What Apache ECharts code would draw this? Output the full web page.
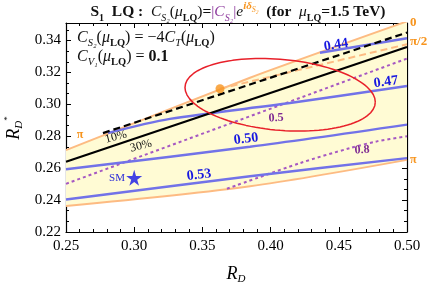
<!DOCTYPE html>
<html><head><meta charset="utf-8">
<script src="https://cdn.jsdelivr.net/npm/echarts@6/dist/echarts.min.js"></script>
<style>html,body{margin:0;padding:0;background:#fff}#c{width:432px;height:293px}</style>
</head><body><div id="c"></div>
<script>
// ---- data ----
const xTickLabels = ['0.25','0.30','0.35','0.40','0.45','0.50'];
const yTickLabels = ['0.22','0.24','0.26','0.28','0.30','0.32','0.34'];
const phase0Boundary = [[0.25,0.2713],[0.3849,0.3167],[0.50,0.3520]];   // delta = 0 (upper orange)
const phasePiBoundary = [[0.25,0.2363],[0.3849,0.2487],[0.50,0.2652]];  // delta = pi (lower orange)
const phaseHalfPi = [[0.3629,0.3098],[0.50,0.3377]];                    // delta = pi/2 (orange dashed)
const contour30pct = [[0.25,0.2640],[0.50,0.3360]];                     // black solid
const contour10pct = [[0.2771,0.2820],[0.50,0.3450]];                   // black dashed
const blue044 = [[0.4362,0.3324],[0.50,0.3415]];
const blue047 = [[0.2808,0.2820],[0.3262,0.2909],[0.4142,0.3008],[0.50,0.3115]];
const blue050 = [[0.25,0.2594],[0.3849,0.2734],[0.50,0.2873]];
const blue053 = [[0.25,0.2403],[0.3849,0.2550],[0.50,0.2663]];
const purple05 = [[0.25,0.2502],[0.50,0.3287]];
const purple08 = [[0.3680,0.2471],[0.4216,0.2632],[0.4582,0.2726],[0.4780,0.2768],[0.50,0.2800]];
const smPoint = [[0.30,0.254]];
const bestPoint = [[0.3629,0.3098]];
// HFLAV-type average ellipse (68% CL)
const ellCenter = [0.407, 0.306];
const ellSigma = [0.046, 0.015];
const ellRho = -0.20;
const ellK = Math.sqrt(2.30);

// ---- build helpers ----
const ellipsePts = [];
for (let i = 0; i <= 120; i++) {
  const t = 2*Math.PI*i/120;
  ellipsePts.push([
    ellCenter[0] + ellK*ellSigma[0]*Math.cos(t),
    ellCenter[1] + ellK*ellSigma[1]*(ellRho*Math.cos(t) + Math.sqrt(1-ellRho*ellRho)*Math.sin(t))
  ]);
}
const bandPolygon = phase0Boundary.concat(phasePiBoundary.slice().reverse());

const SERIF = 'Liberation Serif';
const ORANGE = '#FDBB82', ORANGE_TXT = '#F7941D', BLUE = '#7272E8', BLUE_TXT = '#1818E0',
      PURPLE = '#A658C2', PURPLE_TXT = '#7E2A92';

function line(data, color, width, type, z, smooth) {
  return {type:'line', data, showSymbol:false, symbol:'none', clip:true, z: z||3, smooth: smooth||false,
    lineStyle:{color, width, type: type||'solid'}, silent:true, animation:false};
}

const chart = echarts.init(document.getElementById('c'), null, {renderer:'canvas'});
const axisCommonX = {type:'value', min:0.25, max:0.50, interval:0.05,
  axisLine:{show:true, onZero:false, lineStyle:{color:'#000', width:1.2}},
  axisTick:{show:true, inside:true, length:5, lineStyle:{color:'#000'}},
  minorTick:{show:true, splitNumber:5, length:3, lineStyle:{color:'#000'}},
  splitLine:{show:false}, minorSplitLine:{show:false}};
const axisCommonY = {type:'value', min:0.22, max:0.351, interval:0.02,
  axisLine:{show:true, onZero:false, lineStyle:{color:'#000', width:1.2}},
  axisTick:{show:true, inside:true, length:5, lineStyle:{color:'#000'}},
  minorTick:{show:true, splitNumber:3, length:3, lineStyle:{color:'#000'}},
  splitLine:{show:false}, minorSplitLine:{show:false}};

const sub = (extra) => Object.assign({fontFamily:SERIF, fill:'#111', verticalAlign:'bottom'}, extra);

const option = {
  animation:false,
  backgroundColor:'#fff',
  grid:{left:66, right:25, top:23, bottom:61},
  xAxis:[
    Object.assign({}, axisCommonX, {position:'bottom',
      axisLabel:{show:true, margin:7, fontFamily:SERIF, fontSize:15, color:'#000',
        formatter:(v)=>{const i=Math.round((v-0.25)/0.05); return xTickLabels[i]||'';}}}),
    Object.assign({}, axisCommonX, {position:'top', axisLabel:{show:false}})
  ],
  yAxis:[
    Object.assign({}, axisCommonY, {position:'left',
      axisLabel:{show:true, margin:5, fontFamily:SERIF, fontSize:15, color:'#000', showMaxLabel:false,
        formatter:(v)=>{const i=Math.round((v-0.22)/0.02); return Math.abs(v-(0.22+i*0.02))<1e-6 ? (yTickLabels[i]||'') : '';}}}),
    Object.assign({}, axisCommonY, {position:'right', axisLabel:{show:false}})
  ],
  series:[
    {type:'custom', z:1, clip:true, silent:true, data:[[0.3,0.3]],
      renderItem:(params, api)=>{
        if (params.dataIndex !== 0) return null;
        return {type:'polygon', shape:{points: bandPolygon.map(p=>api.coord(p))}, style:{fill:'#FFFBD4'}};
      }},
    line(phase0Boundary, ORANGE, 2, 'solid', 2, 0.2),
    line(phasePiBoundary, ORANGE, 2, 'solid', 2, 0.3),
    line(phaseHalfPi, ORANGE, 2, [7,4], 2),
    line(purple05, PURPLE, 2, [3,3], 3),
    line(purple08, PURPLE, 2, [3,3], 3, 0.3),
    line(blue044, BLUE, 2.5, 'solid', 4),
    line(blue047, BLUE, 2.5, 'solid', 4, 0.3),
    line(blue050, BLUE, 2.5, 'solid', 4, 0.3),
    line(blue053, BLUE, 2.5, 'solid', 4, 0.3),
    line(contour30pct, '#000', 2.2, 'solid', 5),
    line(contour10pct, '#000', 2.2, [7,4], 5),
    line(ellipsePts, '#E8202A', 1.5, 'solid', 6),
    {type:'scatter', data:bestPoint, symbol:'circle', symbolSize:9, z:7, itemStyle:{color:'#F7941D'}, silent:true},
    {type:'scatter', data:smPoint, z:7, silent:true, symbolSize:16,
      symbol:'path://M50,0 L61,35 L98,35 L68,57 L79,91 L50,70 L21,91 L32,57 L2,35 L39,35 Z',
      itemStyle:{color:'#1414E6'}}
  ],
  graphic:[
    // title
    {type:'text', x:238, y:12, z:10, style:{
      text:'{b|S}{bs|1}{b|  LQ :  }{i|C}{is|S₂}{r|(}{i|μ}{bs|LQ}{r|)}{b|=}{p||}{pi|C}{pis|S₂}{p||}{i|e}{sup|iδ}{sups|S₂}{b|  (for  }{i|μ}{bs|LQ}{b|=1.5 TeV)}',
      align:'center', verticalAlign:'middle',
      rich:{
        b:{fontFamily:SERIF, fontWeight:'bold', fontSize:15.5, fill:'#111', lineHeight:22},
        r:{fontFamily:SERIF, fontSize:15.5, fill:'#111', lineHeight:22},
        i:{fontFamily:SERIF, fontStyle:'italic', fontSize:15.5, fill:'#111', lineHeight:22},
        bs:sub({fontWeight:'bold', fontSize:10, lineHeight:13}),
        is:sub({fontStyle:'italic', fontSize:10, lineHeight:13}),
        p:{fontFamily:SERIF, fontSize:15.5, fill:'#8E3A9E', lineHeight:22},
        pi:{fontFamily:SERIF, fontStyle:'italic', fontSize:15.5, fill:'#8E3A9E', lineHeight:22},
        pis:sub({fontStyle:'italic', fontSize:10, fill:'#8E3A9E', lineHeight:13}),
        sup:{fontFamily:SERIF, fontStyle:'italic', fontWeight:'bold', fontSize:11, fill:'#F7941D', lineHeight:13, verticalAlign:'top'},
        sups:{fontFamily:SERIF, fontStyle:'italic', fontSize:8, fill:'#F7941D', lineHeight:11, verticalAlign:'top', padding:[5,0,0,0]}
      }}},
    // annotation lines
    {type:'text', x:77, y:38, z:10, style:{
      text:'{i|C}{is|S₂}{r|(}{i|μ}{bs|LQ}{r|) = −4}{i|C}{is|T}{r|(}{i|μ}{bs|LQ}{r|)}',
      align:'left', verticalAlign:'middle',
      rich:{
        r:{fontFamily:SERIF, fontSize:16, fill:'#111', lineHeight:21},
        i:{fontFamily:SERIF, fontStyle:'italic', fontSize:16, fill:'#111', lineHeight:21},
        bs:sub({fontWeight:'bold', fontSize:10.5, lineHeight:12}),
        is:sub({fontStyle:'italic', fontSize:10.5, lineHeight:12})
      }}},
    {type:'text', x:77, y:57, z:10, style:{
      text:'{i|C}{is|V₁}{r|(}{i|μ}{bs|LQ}{r|) = }{b|0.1}',
      align:'left', verticalAlign:'middle',
      rich:{
        r:{fontFamily:SERIF, fontSize:16, fill:'#111', lineHeight:21},
        b:{fontFamily:SERIF, fontWeight:'bold', fontSize:16, fill:'#111', lineHeight:21},
        i:{fontFamily:SERIF, fontStyle:'italic', fontSize:16, fill:'#111', lineHeight:21},
        bs:sub({fontWeight:'bold', fontSize:10.5, lineHeight:12}),
        is:sub({fontStyle:'italic', fontSize:10.5, lineHeight:12})
      }}},
    // axis names
    {type:'text', x:236, y:274, z:10, style:{text:'{i|R}{s|D}', align:'center', verticalAlign:'middle',
      rich:{i:{fontFamily:SERIF, fontStyle:'italic', fontSize:18, fill:'#000', lineHeight:22},
            s:{fontFamily:SERIF, fontStyle:'italic', fontSize:11, fill:'#000', lineHeight:13, verticalAlign:'bottom'}}}},
    {type:'text', x:14, y:128, z:10, rotation:Math.PI/2, style:{text:'{i|R}{s|D}{ss|*}', align:'center', verticalAlign:'middle',
      rich:{i:{fontFamily:SERIF, fontStyle:'italic', fontSize:18, fill:'#000', lineHeight:22},
            s:{fontFamily:SERIF, fontStyle:'italic', fontSize:11, fill:'#000', lineHeight:13, verticalAlign:'bottom'},
            ss:{fontFamily:SERIF, fontSize:9, fill:'#000', lineHeight:15, verticalAlign:'top'}}}},
    // contour labels
    {type:'text', x:336, y:45, rotation:0.15, z:10, style:{text:'0.44', align:'center', verticalAlign:'middle', fontFamily:SERIF, fontWeight:'bold', fontSize:14, fill:BLUE_TXT}},
    {type:'text', x:386, y:82, rotation:0.13, z:10, style:{text:'0.47', align:'center', verticalAlign:'middle', fontFamily:SERIF, fontWeight:'bold', fontSize:14, fill:BLUE_TXT}},
    {type:'text', x:246, y:139, rotation:0.12, z:10, style:{text:'0.50', align:'center', verticalAlign:'middle', fontFamily:SERIF, fontWeight:'bold', fontSize:14, fill:BLUE_TXT}},
    {type:'text', x:199, y:175, rotation:0.12, z:10, style:{text:'0.53', align:'center', verticalAlign:'middle', fontFamily:SERIF, fontWeight:'bold', fontSize:14, fill:BLUE_TXT}},
    {type:'text', x:276, y:118, rotation:0.05, z:10, style:{text:'0.5', align:'center', verticalAlign:'middle', fontFamily:SERIF, fontWeight:'bold', fontSize:12, fill:PURPLE_TXT}},
    {type:'text', x:362, y:150, rotation:0.05, z:10, style:{text:'0.8', align:'center', verticalAlign:'middle', fontFamily:SERIF, fontWeight:'bold', fontSize:12, fill:PURPLE_TXT}},
    {type:'text', x:116, y:137, rotation:0.25, z:10, style:{text:'10%', align:'center', verticalAlign:'middle', fontFamily:SERIF, fontSize:12, fill:'#111'}},
    {type:'text', x:141, y:146, rotation:0.25, z:10, style:{text:'30%', align:'center', verticalAlign:'middle', fontFamily:SERIF, fontSize:12, fill:'#111'}},
    {type:'text', x:117, y:178, z:10, style:{text:'SM', align:'center', verticalAlign:'middle', fontFamily:SERIF, fontSize:11, fill:'#2A2AD8'}},
    {type:'text', x:80, y:135, z:10, style:{text:'π', align:'center', verticalAlign:'middle', fontFamily:SERIF, fontWeight:'bold', fontSize:12, fill:ORANGE_TXT}},
    {type:'text', x:410, y:23, z:10, style:{text:'0', align:'left', verticalAlign:'middle', fontFamily:SERIF, fontWeight:'bold', fontSize:13, fill:ORANGE_TXT}},
    {type:'text', x:410, y:42, z:10, style:{text:'π/2', align:'left', verticalAlign:'middle', fontFamily:SERIF, fontWeight:'bold', fontSize:13, fill:ORANGE_TXT}},
    {type:'text', x:410, y:160, z:10, style:{text:'π', align:'left', verticalAlign:'middle', fontFamily:SERIF, fontWeight:'bold', fontSize:12, fill:ORANGE_TXT}}
  ]
};
chart.setOption(option);
</script>
</body></html>
